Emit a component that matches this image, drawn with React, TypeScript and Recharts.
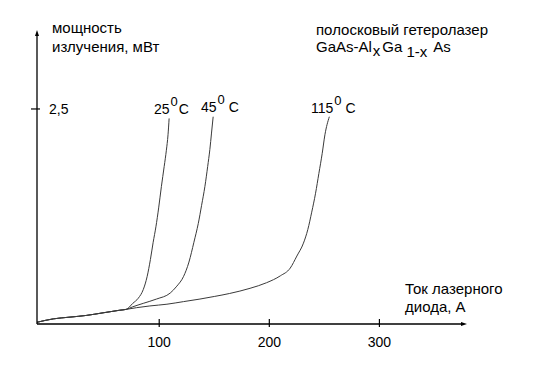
import { LineChart, Line, XAxis, YAxis, ReferenceDot } from 'recharts';

// Ватт-амперные характеристики полоскового гетеролазера при трёх температурах.
// Ток, A (ось X) и мощность излучения, мВт (ось Y).

const current25 = [-11, 4, 19, 34, 49, 64, 70, 76, 81, 85.5, 89, 92, 94.5, 97, 99.5, 102, 104.5, 106.5, 108, 109];
const power25 = [0.02, 0.06, 0.08, 0.1, 0.13, 0.16, 0.17, 0.24, 0.3, 0.4, 0.55, 0.75, 0.95, 1.13, 1.35, 1.6, 1.83, 2.02, 2.2, 2.39];

const current45 = [-11, 4, 19, 34, 49, 64, 70, 76, 85.5, 97.5, 110, 116, 122, 127, 131.5, 135.5, 138.5, 141.5, 144, 146, 147.5, 149];
const power45 = [0.02, 0.06, 0.08, 0.1, 0.13, 0.16, 0.17, 0.2, 0.24, 0.29, 0.36, 0.44, 0.55, 0.72, 0.95, 1.17, 1.38, 1.6, 1.83, 2.03, 2.22, 2.41];

const current115 = [-11, 4, 19, 34, 49, 64, 70, 79.5, 91.5, 107, 122, 137, 150, 164, 182.5, 197.5, 210, 219, 225, 231, 235, 238.5, 242, 245, 248, 250.5, 254.5];
const power115 = [0.02, 0.06, 0.08, 0.1, 0.13, 0.16, 0.17, 0.19, 0.21, 0.23, 0.26, 0.29, 0.32, 0.355, 0.415, 0.48, 0.56, 0.65, 0.79, 0.94, 1.1, 1.3, 1.52, 1.75, 1.98, 2.2, 2.41];

const xTicks = [100, 200, 300];
const yTicks = [2.5];
const yTickLabels = ['2,5'];

const X_DOMAIN: [number, number] = [-11, 375];
const Y_DOMAIN: [number, number] = [0, 3.36];

const toPoints = (xs: number[], ys: number[]) => xs.map((i, k) => ({ i, p: ys[k] }));

const FONT = '"Liberation Sans", Arial, sans-serif';
const LINE = '#3a3a3a';

function XTick({ x, y, payload }: any) {
  return (
    <g>
      <line x1={x} x2={x} y1={y - 5} y2={y + 3} stroke="#000" strokeWidth={1.2} />
      <text x={x} y={y + 23} textAnchor="middle" fontSize={14} fontFamily={FONT} fill="#000">
        {payload.value}
      </text>
    </g>
  );
}

function YTick({ x, y, payload }: any) {
  const idx = yTicks.indexOf(payload.value);
  return (
    <g>
      <line x1={x - 6} x2={x + 3} y1={y} y2={y} stroke="#000" strokeWidth={1.2} />
      <text x={x + 12} y={y + 5} fontSize={14} fontFamily={FONT} fill="#000">
        {yTickLabels[idx]}
      </text>
    </g>
  );
}

// стрелки на концах осей
const ArrowRight = ({ cx, cy }: any) => (
  <path d={`M${cx - 1},${cy - 2} L${cx + 5},${cy} L${cx - 1},${cy + 2} Z`} fill="#000" />
);
const ArrowUp = ({ cx, cy }: any) => (
  <path d={`M${cx - 2},${cy + 1} L${cx},${cy - 5} L${cx + 2},${cy + 1} Z`} fill="#000" />
);

function TempLabel({ x, y, t, gap }: { x: number; y: number; t: string; gap: number }) {
  return (
    <text x={x} y={y} fontSize={14} fontFamily={FONT} fill="#000">
      {t}
      <tspan dx={1} dy={-8} fontSize={13}>0</tspan>
      <tspan dx={gap} dy={8}>C</tspan>
    </text>
  );
}

export default function App() {
  return (
    <div style={{ position: 'absolute', left: 0, top: 0, width: 554, height: 370, background: '#fff' }}>
      <LineChart width={554} height={370} margin={{ top: 35, right: 92, bottom: 16, left: 7 }}>
        <XAxis
          type="number"
          dataKey="i"
          domain={X_DOMAIN}
          ticks={xTicks}
          height={30}
          tickSize={0}
          tickMargin={0}
          tickLine={false}
          tick={<XTick />}
          axisLine={{ stroke: '#000', strokeWidth: 1.3 }}
          allowDataOverflow
        />
        <YAxis
          type="number"
          domain={Y_DOMAIN}
          ticks={yTicks}
          width={30}
          tickSize={0}
          tickMargin={0}
          tickLine={false}
          tick={<YTick />}
          axisLine={{ stroke: '#000', strokeWidth: 1.3 }}
          allowDataOverflow
        />
        <Line data={toPoints(current25, power25)} dataKey="p" type="monotone" stroke={LINE} strokeWidth={1} dot={false} isAnimationActive={false} />
        <Line data={toPoints(current45, power45)} dataKey="p" type="monotone" stroke={LINE} strokeWidth={1} dot={false} isAnimationActive={false} />
        <Line data={toPoints(current115, power115)} dataKey="p" type="monotone" stroke={LINE} strokeWidth={1} dot={false} isAnimationActive={false} />
        <ReferenceDot x={X_DOMAIN[1]} y={0} ifOverflow="visible" shape={<ArrowRight />} />
        <ReferenceDot x={X_DOMAIN[0]} y={Y_DOMAIN[1]} ifOverflow="visible" shape={<ArrowUp />} />

        <text x={52} y={33} fontSize={15} fontFamily={FONT} fill="#000">мощность</text>
        <text x={52} y={52} fontSize={15} fontFamily={FONT} fill="#000">излучения, мВт</text>

        <text x={316} y={35} fontSize={15} fontFamily={FONT} fill="#000">полосковый гетеролазер</text>
        <text x={316} y={52} fontSize={15} fontFamily={FONT} fill="#000">
          GaAs-Al
          <tspan dx={1} dy={4}>x</tspan>
          <tspan dx={2} dy={-4}>Ga</tspan>
          <tspan dx={4} dy={5}>1-x</tspan>
          <tspan dx={6} dy={-5}>As</tspan>
        </text>

        <text x={405} y={294} fontSize={15} fontFamily={FONT} fill="#000">Ток лазерного</text>
        <text x={405} y={312} fontSize={15} fontFamily={FONT} fill="#000">диода, А</text>

        <TempLabel x={154} y={114} t="25" gap={1} />
        <TempLabel x={201} y={112} t="45" gap={4} />
        <TempLabel x={311} y={113} t="115" gap={4} />
      </LineChart>
    </div>
  );
}
